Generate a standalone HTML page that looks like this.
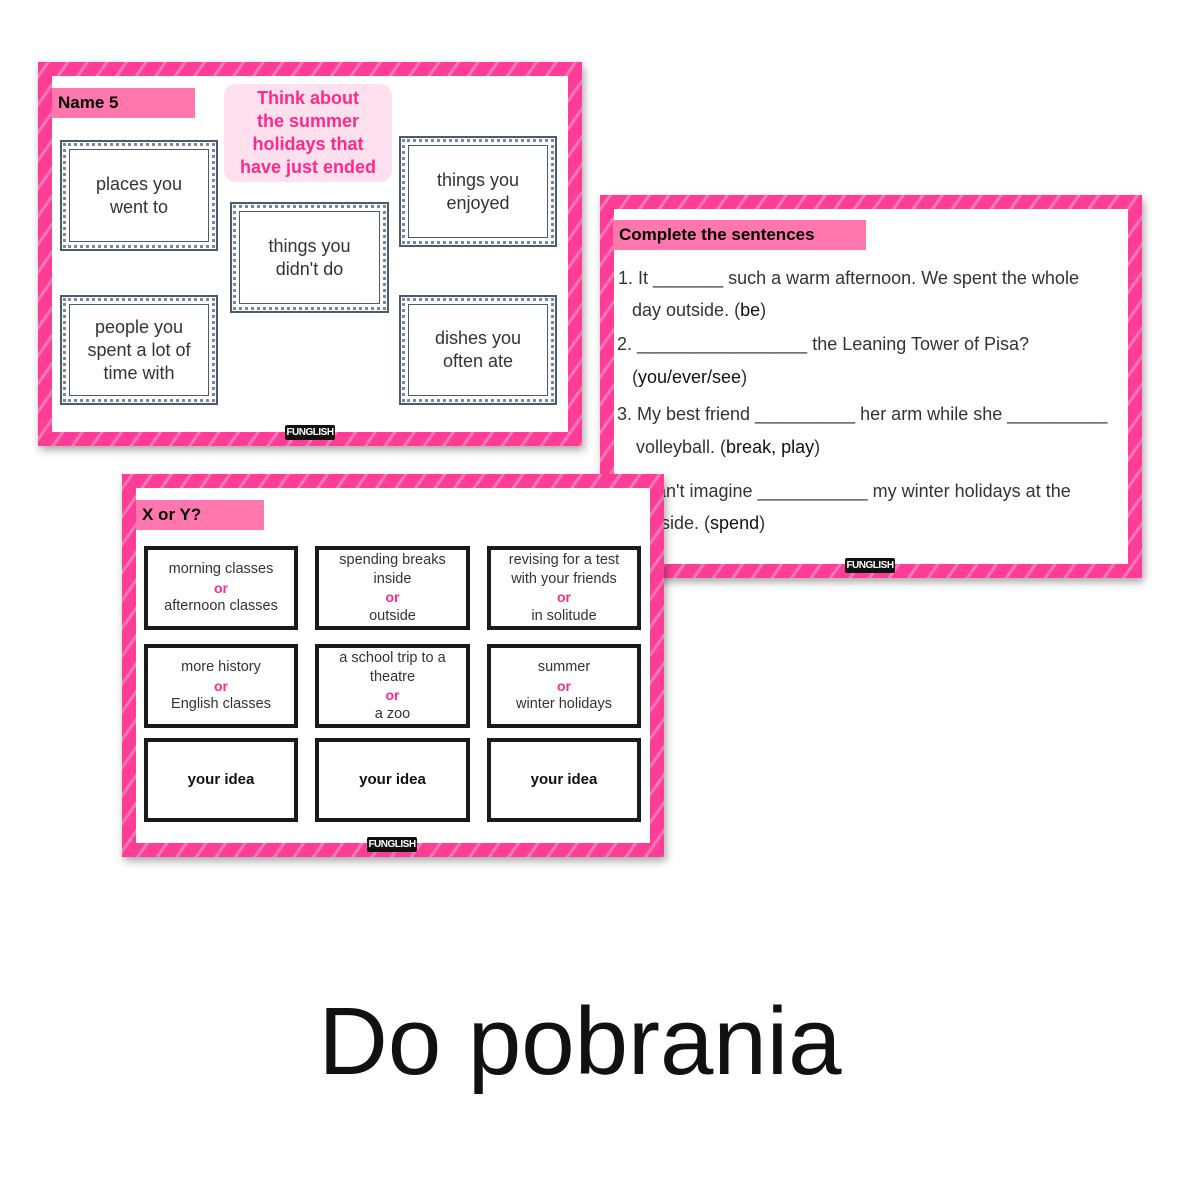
<!DOCTYPE html>
<html><head><meta charset="utf-8"><style>
*{margin:0;padding:0;box-sizing:border-box}
body{width:1200px;height:1200px;background:#fff;position:relative;overflow:hidden;font-family:"Liberation Sans",sans-serif}
.slide{position:absolute;background:repeating-linear-gradient(125deg,#ff3d96 0 7px,#ff78b6 7px 10px,#ff3d96 10px 16px);box-shadow:2px 4px 8px rgba(0,0,0,.35)}
.in{position:absolute;background:#fff;left:14px;top:14px;right:14px;bottom:14px}
.a{position:absolute}
.lab{position:absolute;background:#ff77ad;font-weight:bold;color:#000;font-size:17px;padding-left:6px;line-height:30px}
.fung{position:absolute;width:50px;height:15px;background:#111;color:#fff;font-size:10px;font-weight:bold;text-align:center;line-height:15px;border-radius:2px;letter-spacing:-.5px}
.dcard{position:absolute;border:2px solid #4a5a70;background:#fff}
.dcard .i{position:absolute;left:7px;top:7px;right:7px;bottom:7px;border:1.5px solid #4a5a70;display:flex;align-items:center;justify-content:center;text-align:center;font-size:18px;color:#333;line-height:23px}
.dcard:before{content:"";position:absolute;left:1px;top:1px;right:1px;bottom:1px;border:3px dotted #7a889c}
.xc{position:absolute;border:4px solid #1a1a1a;background:#fff;display:flex;align-items:center;justify-content:center;flex-direction:column;text-align:center;font-size:14.5px;color:#333;line-height:18.5px}
.xc b{color:#ff2a86;font-size:14px}
.t{position:absolute;font-size:18px;color:#333;white-space:nowrap}
</style></head><body>

<!-- Slide A -->
<div class="slide" style="left:38px;top:62px;width:544px;height:384px">
<div class="in"></div>
<div class="lab" style="left:14px;top:26px;width:143px">Name 5</div>
<div class="a" style="left:186px;top:22px;width:168px;height:98px;background:#ffe0ee;border-radius:12px;color:#ff2a86;font-weight:bold;font-size:18px;text-align:center;line-height:23px;padding-top:3px">Think about<br>the summer<br>holidays that<br>have just ended</div>
<div class="dcard" style="left:22px;top:78px;width:158px;height:111px"><div class="i">places you<br>went to</div></div>
<div class="dcard" style="left:361px;top:74px;width:158px;height:111px"><div class="i">things you<br>enjoyed</div></div>
<div class="dcard" style="left:192px;top:140px;width:159px;height:111px"><div class="i">things you<br>didn't do</div></div>
<div class="dcard" style="left:22px;top:233px;width:158px;height:110px"><div class="i">people you<br>spent a lot of<br>time with</div></div>
<div class="dcard" style="left:361px;top:233px;width:158px;height:110px"><div class="i">dishes you<br>often ate</div></div>
<div class="fung" style="left:247px;top:363px">FUNGLISH</div>
</div>

<!-- Slide B -->
<div class="slide" style="left:600px;top:195px;width:542px;height:383px">
<div class="in"></div>
<div class="lab" style="left:13px;top:25px;width:253px;font-size:17px">Complete the sentences</div>
<div class="t" style="left:18px;top:73px">1. It _______ such a warm afternoon. We spent the whole</div>
<div class="t" style="left:32px;top:105px">day outside. (<span style="color:#111">be</span>)</div>
<div class="t" style="left:17px;top:139px">2. _________________ the Leaning Tower of Pisa?</div>
<div class="t" style="left:32px;top:172px">(<span style="color:#111">you/ever/see</span>)</div>
<div class="t" style="left:17px;top:209px">3. My best friend __________ her arm while she __________</div>
<div class="t" style="left:36px;top:242px">volleyball. (<span style="color:#111">break, play</span>)</div>
<div class="t" style="left:17px;top:286px">4. I can't imagine ___________ my winter holidays at the</div>
<div class="t" style="left:32px;top:318px">seaside. (<span style="color:#111">spend</span>)</div>
<div class="fung" style="left:245px;top:363px">FUNGLISH</div>
</div>

<!-- Slide C -->
<div class="slide" style="left:122px;top:474px;width:542px;height:383px">
<div class="in"></div>
<div class="lab" style="left:14px;top:26px;width:128px">X or Y?</div>
<div class="xc" style="left:22px;top:72px;width:154px;height:84px">morning classes<b>or</b>afternoon classes</div>
<div class="xc" style="left:193px;top:72px;width:155px;height:84px">spending breaks<br>inside<b>or</b>outside</div>
<div class="xc" style="left:365px;top:72px;width:154px;height:84px">revising for a test<br>with your friends<b>or</b>in solitude</div>
<div class="xc" style="left:22px;top:170px;width:154px;height:84px">more history<b>or</b>English classes</div>
<div class="xc" style="left:193px;top:170px;width:155px;height:84px">a school trip to a<br>theatre<b>or</b>a zoo</div>
<div class="xc" style="left:365px;top:170px;width:154px;height:84px">summer<b>or</b>winter holidays</div>
<div class="xc" style="left:22px;top:264px;width:154px;height:84px;font-weight:bold;color:#111;font-size:15px">your idea</div>
<div class="xc" style="left:193px;top:264px;width:155px;height:84px;font-weight:bold;color:#111;font-size:15px">your idea</div>
<div class="xc" style="left:365px;top:264px;width:154px;height:84px;font-weight:bold;color:#111;font-size:15px">your idea</div>
<div class="fung" style="left:245px;top:363px">FUNGLISH</div>
</div>

<div class="a" style="left:0;width:1160px;top:987px;text-align:center;font-size:96px;color:#111;line-height:110px">Do pobrania</div>
</body></html>
